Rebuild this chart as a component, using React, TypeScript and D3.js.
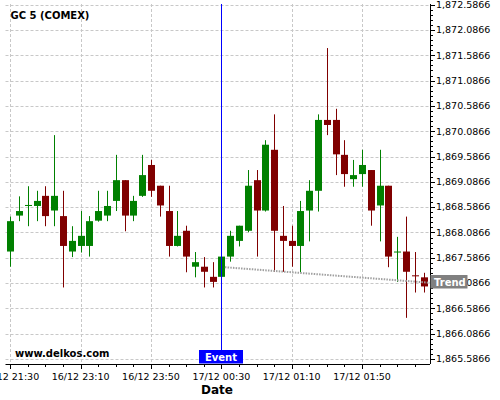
import React from 'react';
import * as d3 from 'd3';

const xLabels = ['16/12 21:30', '16/12 23:10', '16/12 23:50', '17/12 00:30', '17/12 01:10', '17/12 01:50'];
const xLabelIndex = [0, 8, 16, 24, 32, 40];

const openV = [1867.71, 1868.42, 1868.61, 1868.61, 1868.81, 1868.52, 1868.41, 1867.71, 1867.82, 1867.82,
  1868.32, 1868.42, 1868.71, 1869.12, 1868.42, 1868.81, 1869.42, 1869.01, 1868.51, 1867.82,
  1868.12, 1867.41, 1867.41, 1867.21, 1867.21, 1867.61, 1867.92, 1868.12, 1869.12, 1868.52,
  1869.72, 1868.02, 1867.92, 1867.82, 1868.52, 1868.91, 1870.31, 1870.31, 1869.62, 1869.14,
  1869.24, 1869.32, 1868.62, 1869.01, 1867.70, 1867.71, 1867.24, 1867.20];
const highV = [1868.40, 1868.80, 1869.00, 1868.91, 1869.00, 1870.01, 1868.91, 1868.21, 1868.51, 1868.41,
  1868.91, 1868.91, 1869.62, 1869.12, 1868.81, 1869.62, 1869.52, 1869.01, 1869.01, 1868.51,
  1868.22, 1867.70, 1867.60, 1867.50, 1867.65, 1868.12, 1868.22, 1869.32, 1869.32, 1869.91,
  1870.42, 1868.61, 1868.22, 1868.71, 1869.12, 1870.42, 1871.73, 1870.53, 1869.91, 1869.52,
  1869.72, 1869.32, 1869.72, 1869.01, 1868.00, 1868.40, 1867.70, 1867.29];
const lowV = [1867.41, 1868.31, 1868.21, 1868.31, 1868.21, 1868.21, 1867.00, 1867.60, 1867.69, 1867.61,
  1868.30, 1868.31, 1868.51, 1868.11, 1868.31, 1868.79, 1868.79, 1868.40, 1867.61, 1867.81,
  1867.30, 1867.20, 1867.00, 1867.00, 1867.19, 1867.51, 1867.81, 1868.09, 1867.61, 1868.50,
  1867.31, 1867.31, 1867.41, 1867.30, 1867.91, 1868.50, 1870.01, 1869.22, 1868.99, 1868.99,
  1868.99, 1868.22, 1867.91, 1867.40, 1867.11, 1866.40, 1866.90, 1866.90];
const closeV = [1868.31, 1868.51, 1868.63, 1868.71, 1868.41, 1868.81, 1867.82, 1867.92, 1868.02, 1868.31,
  1868.51, 1868.61, 1869.12, 1868.42, 1868.71, 1869.22, 1868.91, 1868.62, 1867.82, 1868.02,
  1867.61, 1867.50, 1867.31, 1867.11, 1867.61, 1868.02, 1868.22, 1869.01, 1868.52, 1869.82,
  1868.12, 1867.92, 1867.82, 1868.51, 1868.91, 1870.31, 1870.21, 1869.63, 1869.24, 1869.22,
  1869.42, 1868.52, 1869.01, 1867.61, 1867.71, 1867.31, 1867.22, 1867.02];

const yTicks = [1865.5866, 1866.0866, 1866.5866, 1867.0866, 1867.5866, 1868.0866, 1868.5866,
  1869.0866, 1869.5866, 1870.0866, 1870.5866, 1871.0866, 1871.5866, 1872.0866, 1872.5866];

const eventIndex = 24;
const trendIdx = [24.4, 47.72];
const trendVal = [1867.40, 1867.093];

const W = 500, H = 400;
const plotL = 5.5, plotR = 430, plotT = 4, plotB = 364;
const UP = '#008000', DOWN = '#800000';
const FONT = 'DejaVu Sans, sans-serif';

export default function App() {
  const x = d3.scaleLinear().domain([0, 47]).range([10.3, 423.6]);
  const y = d3.scaleLinear().domain([1865.5866, 1872.5866]).range([359, 4.7]);
  const fmt = d3.format(',.4f');
  const minorY: number[] = [];
  for (let i = 0; i < yTicks.length - 1; i++) {
    for (let k = 1; k < 5; k++) minorY.push(yTicks[i] + k * 0.1);
  }
  const minorX: number[] = [];
  for (let i = -0; i <= 47; i += 2) if (!xLabelIndex.includes(i)) minorX.push(i);
  const bw = 7;
  const trendLine = d3.line<number>().x((d) => x(trendIdx[d])).y((d) => y(trendVal[d]));
  const ex = Math.round(x(eventIndex)) + 0.5;

  return (
    <svg width={W} height={H} style={{ position: 'absolute', left: 0, top: 0, background: '#fff' }}>
      <rect x={0} y={0} width={W} height={H} fill="#fff" />
      {/* grid */}
      <g stroke="#c8c8c8" strokeWidth={1} strokeDasharray="3,2">
        {yTicks.map((t) => (
          <line key={'gy' + t} x1={plotL} x2={plotR} y1={Math.round(y(t)) + 0.5} y2={Math.round(y(t)) + 0.5} />
        ))}
        {xLabelIndex.map((i) => (
          <line key={'gx' + i} x1={Math.round(x(i)) + 0.5} x2={Math.round(x(i)) + 0.5} y1={plotT} y2={plotB} />
        ))}
      </g>
      {/* candles */}
      {openV.map((o, i) => {
        const c = closeV[i];
        const up = c >= o;
        const col = up ? UP : DOWN;
        const cx = Math.round(x(i)) + 0.5;
        const top = y(Math.max(o, c));
        const bot = y(Math.min(o, c));
        const h = Math.max(1, bot - top);
        return (
          <g key={'c' + i}>
            <line x1={cx} x2={cx} y1={y(highV[i])} y2={y(lowV[i])} stroke={col} strokeWidth={1} />
            <rect x={cx - bw / 2} y={top} width={bw} height={h} fill={col} />
          </g>
        );
      })}
      {/* trend */}
      <path d={trendLine([0, 1]) || ''} stroke="#a0a0a0" strokeWidth={2} strokeDasharray="1.5,1.2" fill="none" />
      {/* event line */}
      <line x1={ex} x2={ex} y1={plotT} y2={350} stroke="#0000ff" strokeWidth={1} />
      <rect x={199} y={350} width={44} height={13.5} fill="#0000ff" />
      <text x={221} y={361} textAnchor="middle" fill="#fff" fontFamily={FONT} fontWeight="bold" fontSize={10}>Event</text>
      {/* axes */}
      <line x1={plotL} x2={plotR} y1={plotB + 0.5} y2={plotB + 0.5} stroke="#000" strokeWidth={1} />
      <line x1={plotR + 0.5} x2={plotR + 0.5} y1={plotT} y2={plotB} stroke="#000" strokeWidth={1} />
      {yTicks.map((t) => (
        <g key={'yt' + t}>
          <line x1={plotR} x2={plotR + 5} y1={Math.round(y(t)) + 0.5} y2={Math.round(y(t)) + 0.5} stroke="#000" />
          <text x={436} y={y(t)} dy="0.35em" fontFamily={FONT} fontSize={9.5} fill="#000">{fmt(t)}</text>
        </g>
      ))}
      {minorY.map((t, k) => (
        <line key={'my' + k} x1={plotR} x2={plotR + 3} y1={Math.round(y(t)) + 0.5} y2={Math.round(y(t)) + 0.5} stroke="#000" />
      ))}
      {xLabelIndex.map((i, k) => (
        <g key={'xt' + i}>
          <line x1={Math.round(x(i)) + 0.5} x2={Math.round(x(i)) + 0.5} y1={plotB} y2={plotB + 5} stroke="#000" />
          <text x={x(i)} y={379.5} textAnchor="middle" fontFamily={FONT} fontSize={9.5} fill="#000">{xLabels[k]}</text>
        </g>
      ))}
      {minorX.map((i) => (
        <line key={'mx' + i} x1={Math.round(x(i)) + 0.5} x2={Math.round(x(i)) + 0.5} y1={plotB} y2={plotB + 3} stroke="#000" />
      ))}
      {/* trend label */}
      <rect x={430.5} y={275} width={37} height={13.5} fill="#808080" />
      <text x={434} y={286} fill="#fff" fontFamily={FONT} fontWeight="bold" fontSize={10}>Trend</text>
      {/* titles */}
      <text x={10.5} y={19} fontFamily={FONT} fontWeight="bold" fontSize={10} fill="#000">GC 5 (COMEX)</text>
      <text x={15} y={356.5} fontFamily={FONT} fontWeight="bold" fontSize={10} fill="#000">www.delkos.com</text>
      <text x={217} y={393.5} textAnchor="middle" fontFamily={FONT} fontWeight="bold" fontSize={12} fill="#000">Date</text>
    </svg>
  );
}
